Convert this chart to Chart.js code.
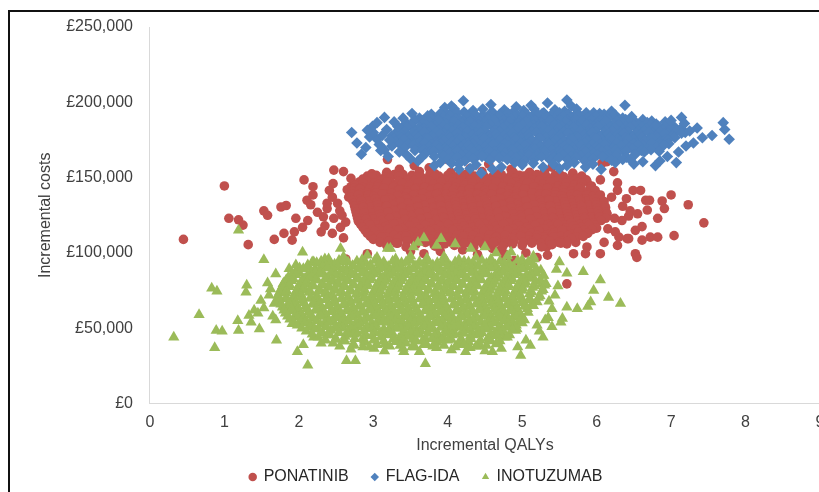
<!DOCTYPE html>
<html>
<head>
<meta charset="utf-8">
<script src="https://cdn.jsdelivr.net/npm/chart.js@4"></script>
<style>
  html, body { margin: 0; padding: 0; background: #fff; overflow: hidden; }
  #frame { position: absolute; left: 8px; top: 10px; width: 900px; height: 600px; border: 2px solid #111; box-sizing: border-box; }
  #wrap { position: absolute; left: 0; top: 0; width: 852px; height: 492px; }
</style>
</head>
<body>
<div id="frame"></div>
<div id="wrap"><canvas id="psa" width="852" height="492"></canvas></div>
<script>
// ═══════════ DATA ═══════════
// each series: flat list of [incremental QALYs, incremental cost in £000] pairs
const seriesNames = ['PONATINIB', 'FLAG-IDA', 'INOTUZUMAB'];
const seriesColors = ['#C0504D', '#4F81BD', '#9BBB59'];
const costTicks = [0, 50000, 100000, 150000, 200000, 250000];
const qalyTicks = [0, 1, 2, 3, 4, 5, 6, 7, 8, 9];

const ponatinibPts = [
  // left tail
  0.45,109, 1.0,144.5, 1.06,123, 1.19,122, 1.25,118.5, 1.32,105.5, 1.53,128, 1.58,125, 1.76,130.5, 1.83,131.5,
  1.67,109, 1.8,113, 1.91,108.5, 1.94,114, 1.96,123, 2.07,148.5, 2.19,144, 2.19,138.5, 2.12,121.5, 2.11,135,
  2.16,132, 2.33,124, 2.38,129.5, 2.46,146, 2.47,155, 2.6,154, 2.41,141.5, 2.45,137, 2.38,133, 2.47,123,
  2.45,113, 2.56,117, 2.63,120.5, 2.7,149.5, 2.7,144, 2.67,137, 2.63,96, 2.92,99.5, 2.3,114, 2.25,127,
  2.55,128, 2.6,110, 2.52,133, 2.35,118, 2.65,142, 2.58,125, 2.05,117,
  // right tail
  7.44,120, 7.23,132, 7.04,111.5, 7.0,138.5, 6.88,134.5, 6.91,129.5, 6.82,123, 6.72,110.5, 6.82,110.5, 6.52,99.5,
  6.54,97, 6.61,117.5, 6.52,115, 6.59,141.5, 6.49,141.5, 6.66,135, 6.71,135, 6.41,109.5, 6.3,110.5, 6.43,124.5,
  6.34,121.5, 6.24,123, 6.28,146.5, 6.28,141.5, 6.05,148.5, 6.23,154, 6.1,107, 6.05,99.5, 5.85,99.5, 5.87,104,
  5.69,99.5, 5.72,107, 5.6,106, 5.34,98.5, 5.33,104, 6.07,159.5, 5.8,150, 5.6,79.5, 6.28,105, 6.43,109.5,
  6.61,108.5, 6.35,131, 6.45,128, 6.55,126, 6.2,137, 6.4,136, 6.15,116, 6.25,114, 6.68,128.5,
  // lower / upper fringe
  4.89,95, 4.76,99.5, 4.69,101.5, 3.68,99.5, 3.82,105, 4.9,94.5, 4.76,98, 4.4,99, 3.5,101, 5.05,100,
  4.2,102, 3.9,101, 4.6,103, 5.2,97, 3.19,162, 4.0,162, 6.13,160.5, 3.55,158, 4.55,159, 5.4,157,
  3.35,155.5, 4.3,156, 4.85,155.5, 5.1,153.5, 3.75,156.5,
  // core
  2.98,152.5, 3.18,153.5, 3.4,152, 3.62,154, 3.83,152.5, 4.04,153.5, 4.25,152, 4.46,154, 4.67,152.5, 4.88,153.5,
  5.08,152, 5.3,154, 5.5,152.5, 5.68,153,
  2.92,151, 3.04,151.5, 3.16,150.5, 3.28,152, 3.4,151, 3.52,151.5, 3.64,150.5, 3.76,152, 3.88,151, 4.0,151.5,
  4.12,150.5, 4.24,152, 4.36,151, 4.48,151.5, 4.6,150.5, 4.72,152, 4.84,151, 4.96,151.5, 5.08,150.5, 5.2,152,
  5.32,151, 5.44,151.5, 5.56,150.5, 5.68,152, 5.8,151,
  2.86,149, 2.98,150.5, 3.1,148, 3.22,149.5, 3.34,151, 3.46,148.5, 3.58,150, 3.7,149, 3.82,150.5, 3.94,148,
  4.06,149.5, 4.18,151, 4.3,148.5, 4.42,150, 4.54,149, 4.66,150.5, 4.78,148, 4.9,149.5, 5.02,151, 5.14,148.5,
  5.26,150, 5.38,149, 5.5,150.5, 5.62,148, 5.74,149.5, 5.86,148.5,
  2.81,147, 2.92,147.5, 3.02,146.5, 3.13,148, 3.23,147, 3.34,147.5, 3.44,146.5, 3.55,148, 3.65,147, 3.76,147.5,
  3.86,146.5, 3.97,148, 4.07,147, 4.18,147.5, 4.28,146.5, 4.39,148, 4.49,147, 4.6,147.5, 4.7,146.5, 4.81,148,
  4.91,147, 5.02,147.5, 5.12,146.5, 5.23,148, 5.33,147, 5.44,147.5, 5.54,146.5, 5.65,148, 5.75,147, 5.87,147.5,
  2.76,145, 2.86,146.5, 2.97,144, 3.07,145.5, 3.18,147, 3.28,144.5, 3.39,146, 3.49,145, 3.6,146.5, 3.7,144,
  3.81,145.5, 3.91,147, 4.02,144.5, 4.12,146, 4.23,145, 4.33,146.5, 4.44,144, 4.54,145.5, 4.65,147, 4.75,144.5,
  4.86,146, 4.96,145, 5.07,146.5, 5.17,144, 5.28,145.5, 5.38,147, 5.49,144.5, 5.59,146, 5.7,145, 5.8,146.5, 5.93,144.5,
  2.74,143, 2.85,143.5, 2.95,142.5, 3.06,144, 3.16,143, 3.27,143.5, 3.37,142.5, 3.48,144, 3.58,143, 3.69,143.5,
  3.79,142.5, 3.9,144, 4.0,143, 4.11,143.5, 4.21,142.5, 4.32,144, 4.42,143, 4.53,143.5, 4.63,142.5, 4.74,144,
  4.84,143, 4.95,143.5, 5.05,142.5, 5.16,144, 5.26,143, 5.37,143.5, 5.47,142.5, 5.58,144, 5.68,143, 5.79,143.5, 5.91,142.5,
  2.72,141, 2.82,142.5, 2.93,140, 3.03,141.5, 3.14,143, 3.24,140.5, 3.35,142, 3.45,141, 3.56,142.5, 3.66,140,
  3.77,141.5, 3.87,143, 3.98,140.5, 4.08,142, 4.19,141, 4.29,142.5, 4.4,140, 4.5,141.5, 4.61,143, 4.71,140.5,
  4.82,142, 4.92,141, 5.03,142.5, 5.13,140, 5.24,141.5, 5.34,143, 5.45,140.5, 5.55,142, 5.66,141, 5.76,142.5,
  5.87,140, 5.98,141.5,
  2.72,139, 2.83,139.5, 2.93,138.5, 3.04,140, 3.14,139, 3.25,139.5, 3.35,138.5, 3.46,140, 3.56,139, 3.67,139.5,
  3.77,138.5, 3.88,140, 3.98,139, 4.09,139.5, 4.19,138.5, 4.3,140, 4.4,139, 4.51,139.5, 4.61,138.5, 4.72,140,
  4.82,139, 4.93,139.5, 5.03,138.5, 5.14,140, 5.24,139, 5.35,139.5, 5.45,138.5, 5.56,140, 5.66,139, 5.77,139.5,
  5.87,138.5, 5.99,139.5,
  2.7,137, 2.8,138.5, 2.91,136, 3.01,137.5, 3.12,139, 3.22,136.5, 3.33,138, 3.43,137, 3.54,138.5, 3.64,136,
  3.75,137.5, 3.85,139, 3.96,136.5, 4.06,138, 4.17,137, 4.27,138.5, 4.38,136, 4.48,137.5, 4.59,139, 4.69,136.5,
  4.8,138, 4.9,137, 5.01,138.5, 5.11,136, 5.22,137.5, 5.32,139, 5.43,136.5, 5.53,138, 5.64,137, 5.74,138.5,
  5.85,136, 5.95,137.5, 6.05,138.5,
  2.72,135, 2.82,135.5, 2.93,134.5, 3.03,136, 3.14,135, 3.24,135.5, 3.35,134.5, 3.45,136, 3.56,135, 3.66,135.5,
  3.77,134.5, 3.87,136, 3.98,135, 4.08,135.5, 4.19,134.5, 4.29,136, 4.4,135, 4.5,135.5, 4.61,134.5, 4.71,136,
  4.82,135, 4.92,135.5, 5.03,134.5, 5.13,136, 5.24,135, 5.34,135.5, 5.45,134.5, 5.55,136, 5.66,135, 5.76,135.5,
  5.87,134.5, 5.97,136, 6.07,135,
  2.74,133, 2.84,134.5, 2.95,132, 3.05,133.5, 3.16,135, 3.26,132.5, 3.37,134, 3.47,133, 3.58,134.5, 3.68,132,
  3.79,133.5, 3.89,135, 4.0,132.5, 4.1,134, 4.21,133, 4.31,134.5, 4.42,132, 4.52,133.5, 4.63,135, 4.73,132.5,
  4.84,134, 4.94,133, 5.05,134.5, 5.15,132, 5.26,133.5, 5.36,135, 5.47,132.5, 5.57,134, 5.68,133, 5.78,134.5,
  5.89,132, 5.99,133.5, 6.1,134,
  2.75,131, 2.85,131.5, 2.96,130.5, 3.06,132, 3.17,131, 3.27,131.5, 3.38,130.5, 3.48,132, 3.59,131, 3.69,131.5,
  3.8,130.5, 3.9,132, 4.01,131, 4.11,131.5, 4.22,130.5, 4.32,132, 4.43,131, 4.53,131.5, 4.64,130.5, 4.74,132,
  4.85,131, 4.95,131.5, 5.06,130.5, 5.16,132, 5.27,131, 5.37,131.5, 5.48,130.5, 5.58,132, 5.69,131, 5.79,131.5,
  5.9,130.5, 6.0,132, 6.11,131,
  2.76,129, 2.86,130.5, 2.97,128, 3.07,129.5, 3.18,131, 3.28,128.5, 3.39,130, 3.49,129, 3.6,130.5, 3.7,128,
  3.81,129.5, 3.91,131, 4.02,128.5, 4.12,130, 4.23,129, 4.33,130.5, 4.44,128, 4.54,129.5, 4.65,131, 4.75,128.5,
  4.86,130, 4.96,129, 5.07,130.5, 5.17,128, 5.28,129.5, 5.38,131, 5.49,128.5, 5.59,130, 5.7,129, 5.8,130.5,
  5.91,128, 6.01,129.5, 6.12,130,
  2.77,127, 2.87,127.5, 2.98,126.5, 3.08,128, 3.19,127, 3.29,127.5, 3.4,126.5, 3.5,128, 3.61,127, 3.71,127.5,
  3.82,126.5, 3.92,128, 4.03,127, 4.13,127.5, 4.24,126.5, 4.34,128, 4.45,127, 4.55,127.5, 4.66,126.5, 4.76,128,
  4.87,127, 4.97,127.5, 5.08,126.5, 5.18,128, 5.29,127, 5.39,127.5, 5.5,126.5, 5.6,128, 5.71,127, 5.81,127.5,
  5.92,126.5, 6.02,128, 6.13,127,
  2.78,125, 2.88,126.5, 2.99,124, 3.09,125.5, 3.2,127, 3.3,124.5, 3.41,126, 3.51,125, 3.62,126.5, 3.72,124,
  3.83,125.5, 3.93,127, 4.04,124.5, 4.14,126, 4.25,125, 4.35,126.5, 4.46,124, 4.56,125.5, 4.67,127, 4.77,124.5,
  4.88,126, 4.98,125, 5.09,126.5, 5.19,124, 5.3,125.5, 5.4,127, 5.51,124.5, 5.61,126, 5.72,125, 5.82,126.5,
  5.93,124, 6.03,125.5, 6.14,126,
  2.79,123, 2.89,123.5, 3.0,122.5, 3.1,124, 3.21,123, 3.31,123.5, 3.42,122.5, 3.52,124, 3.63,123, 3.73,123.5,
  3.84,122.5, 3.94,124, 4.05,123, 4.15,123.5, 4.26,122.5, 4.36,124, 4.47,123, 4.57,123.5, 4.68,122.5, 4.78,124,
  4.89,123, 4.99,123.5, 5.1,122.5, 5.2,124, 5.31,123, 5.41,123.5, 5.52,122.5, 5.62,124, 5.73,123, 5.83,123.5,
  5.94,122.5, 6.04,124, 6.12,123,
  2.8,121, 2.9,122.5, 3.01,120, 3.11,121.5, 3.22,123, 3.32,120.5, 3.43,122, 3.53,121, 3.64,122.5, 3.74,120,
  3.85,121.5, 3.95,123, 4.06,120.5, 4.16,122, 4.27,121, 4.37,122.5, 4.48,120, 4.58,121.5, 4.69,123, 4.79,120.5,
  4.9,122, 5.0,121, 5.11,122.5, 5.21,120, 5.32,121.5, 5.42,123, 5.53,120.5, 5.63,122, 5.74,121, 5.84,122.5,
  5.95,120, 6.06,121.5,
  2.83,119, 2.93,119.5, 3.04,118.5, 3.14,120, 3.25,119, 3.35,119.5, 3.46,118.5, 3.56,120, 3.67,119, 3.77,119.5,
  3.88,118.5, 3.98,120, 4.09,119, 4.19,119.5, 4.3,118.5, 4.4,120, 4.51,119, 4.61,119.5, 4.72,118.5, 4.82,120,
  4.93,119, 5.03,119.5, 5.14,118.5, 5.24,120, 5.35,119, 5.45,119.5, 5.56,118.5, 5.66,120, 5.77,119, 5.87,119.5, 5.98,118.5,
  2.86,117, 2.96,118.5, 3.07,116, 3.17,117.5, 3.28,119, 3.38,116.5, 3.49,118, 3.59,117, 3.7,118.5, 3.8,116,
  3.91,117.5, 4.01,119, 4.12,116.5, 4.22,118, 4.33,117, 4.43,118.5, 4.54,116, 4.64,117.5, 4.75,119, 4.85,116.5,
  4.96,118, 5.06,117, 5.17,118.5, 5.27,116, 5.38,117.5, 5.48,119, 5.59,116.5, 5.69,118, 5.8,117, 5.9,118.5, 6.0,116.5,
  2.89,115, 2.99,115.5, 3.1,114.5, 3.2,116, 3.31,115, 3.41,115.5, 3.52,114.5, 3.62,116, 3.73,115, 3.83,115.5,
  3.94,114.5, 4.04,116, 4.15,115, 4.25,115.5, 4.36,114.5, 4.46,116, 4.57,115, 4.67,115.5, 4.78,114.5, 4.88,116,
  4.99,115, 5.09,115.5, 5.2,114.5, 5.3,116, 5.41,115, 5.51,115.5, 5.62,114.5, 5.72,116, 5.83,115, 5.94,115.5,
  2.92,113, 3.02,114.5, 3.13,112, 3.23,113.5, 3.34,115, 3.44,112.5, 3.55,114, 3.65,113, 3.76,114.5, 3.86,112,
  3.97,113.5, 4.07,115, 4.18,112.5, 4.28,114, 4.39,113, 4.49,114.5, 4.6,112, 4.7,113.5, 4.81,115, 4.91,112.5,
  5.02,114, 5.12,113, 5.23,114.5, 5.33,112, 5.44,113.5, 5.54,115, 5.65,112.5, 5.75,114, 5.88,113,
  2.96,111, 3.07,111.5, 3.17,110.5, 3.28,112, 3.38,111, 3.49,111.5, 3.6,110.5, 3.7,112, 3.81,111, 3.92,111.5,
  4.02,110.5, 4.13,112, 4.24,111, 4.34,111.5, 4.45,110.5, 4.56,112, 4.66,111, 4.77,111.5, 4.88,110.5, 4.98,112,
  5.09,111, 5.2,111.5, 5.3,110.5, 5.41,112, 5.52,111, 5.62,111.5, 5.73,110.5, 5.82,111,
  3.0,109, 3.11,110.5, 3.22,108, 3.33,109.5, 3.44,111, 3.55,108.5, 3.66,110, 3.77,109, 3.88,110.5, 3.99,108,
  4.1,109.5, 4.21,111, 4.32,108.5, 4.43,110, 4.54,109, 4.65,110.5, 4.76,108, 4.87,109.5, 4.98,111, 5.09,108.5,
  5.2,110, 5.31,109, 5.42,110.5, 5.53,108, 5.66,109.5,
  3.09,107, 3.21,107.5, 3.33,106.5, 3.45,108, 3.57,107, 3.69,107.5, 3.81,106.5, 3.93,108, 4.05,107, 4.17,107.5,
  4.29,106.5, 4.41,108, 4.53,107, 4.65,107.5, 4.77,106.5, 4.89,108, 5.01,107, 5.13,107.5, 5.25,106.5, 5.37,108,
  5.49,107, 5.6,107.5,
  3.18,105, 3.31,106.5, 3.44,104, 3.57,105.5, 3.7,107, 3.83,104.5, 3.96,106, 4.09,105, 4.22,106.5, 4.35,104,
  4.48,105.5, 4.61,107, 4.74,104.5, 4.87,106, 5.0,105, 5.13,106.5, 5.26,104, 5.4,105.5, 5.52,106.5
];

const flagIdaPts = [
  // upper fringe
  4.21,201, 4.05,197.5, 4.58,198.5, 5.34,199.5, 5.6,201.5, 5.66,197.5, 6.38,198, 4.92,197, 5.12,198, 3.96,196.5,
  3.95,194, 4.09,195.5, 4.22,193.5, 4.34,194.5, 4.47,195.5, 4.61,193, 4.76,195, 4.88,193.5, 5.02,194.5, 5.16,195.5,
  5.29,193, 5.44,195, 5.57,194, 5.73,195.5, 5.86,193, 6.04,192.5, 6.2,194,
  // core
  3.78,192, 3.9,192.5, 4.01,191.5, 4.12,193, 4.24,192, 4.35,192.5, 4.47,191.5, 4.58,193, 4.7,192, 4.81,192.5,
  4.93,191.5, 5.04,193, 5.16,192, 5.27,192.5, 5.39,191.5, 5.5,193, 5.62,192, 5.73,192.5, 5.85,191.5, 5.96,193,
  6.1,192, 6.25,191.5,
  3.62,189.5, 3.73,191, 3.83,189, 3.94,190.5, 4.03,191.5, 4.15,189, 4.26,190.5, 4.37,191.5, 4.46,189.5, 4.57,190,
  4.69,191.5, 4.79,189, 4.9,190.5, 5.01,191, 5.11,189.5, 5.22,191.5, 5.33,190, 5.44,189, 5.55,191, 5.66,190,
  5.77,191.5, 5.88,189.5, 5.99,190.5, 6.1,189, 6.22,191, 6.35,189.5, 6.47,190.5,
  3.56,188.5, 3.67,188, 3.78,189, 3.89,187.5, 4.0,188.5, 4.1,189, 4.21,188, 4.32,188.5, 4.42,187.5, 4.53,189,
  4.64,188, 4.75,188.5, 4.85,189, 4.96,187.5, 5.07,188.5, 5.17,188, 5.28,189, 5.39,187.5, 5.5,188.5, 5.6,188,
  5.71,189, 5.82,187.5, 5.93,188.5, 6.04,188, 6.15,189, 6.27,187.5, 6.39,188.5, 6.5,188, 6.62,188.5, 6.74,187.5,
  3.45,186, 3.55,187.5, 3.66,185.5, 3.77,186.5, 3.87,188, 3.98,185.5, 4.09,187, 4.19,186, 4.3,187.5, 4.41,185,
  4.51,186.5, 4.62,188, 4.73,185.5, 4.83,187, 4.94,186, 5.05,187.5, 5.15,185, 5.26,186.5, 5.37,188, 5.48,185.5,
  5.58,187, 5.69,186, 5.8,187.5, 5.9,185, 6.01,186.5, 6.12,187.5, 6.23,185.5, 6.34,186.5, 6.45,187.5, 6.56,185,
  6.68,186.5, 6.8,185.5, 6.92,187,
  3.4,184, 3.51,184.5, 3.62,183.5, 3.72,185, 3.83,184, 3.94,184.5, 4.04,183.5, 4.15,185, 4.26,184, 4.36,184.5,
  4.47,183.5, 4.58,185, 4.68,184, 4.79,184.5, 4.9,183.5, 5.0,185, 5.11,184, 5.22,184.5, 5.32,183.5, 5.43,185,
  5.54,184, 5.65,184.5, 5.75,183.5, 5.86,185, 5.97,184, 6.07,184.5, 6.18,183.5, 6.29,185, 6.4,184, 6.5,184.5,
  6.61,183.5, 6.72,185, 6.83,184, 6.94,184.5, 7.05,183.5,
  3.35,182, 3.45,183.5, 3.56,181, 3.67,182.5, 3.78,184, 3.88,181.5, 3.99,183, 4.1,182, 4.2,183.5, 4.31,181,
  4.42,182.5, 4.52,184, 4.63,181.5, 4.74,183, 4.85,182, 4.95,183.5, 5.06,181, 5.17,182.5, 5.27,184, 5.38,181.5,
  5.49,183, 5.6,182, 5.7,183.5, 5.81,181, 5.92,182.5, 6.02,184, 6.13,181.5, 6.24,183, 6.35,182, 6.45,183.5,
  6.56,181, 6.67,182.5, 6.78,184, 6.89,181.5, 7.0,183, 7.12,182,
  3.31,180, 3.42,180.5, 3.52,179.5, 3.63,181, 3.74,180, 3.85,180.5, 3.95,179.5, 4.06,181, 4.17,180, 4.27,180.5,
  4.38,179.5, 4.49,181, 4.6,180, 4.7,180.5, 4.81,179.5, 4.92,181, 5.03,180, 5.13,180.5, 5.24,179.5, 5.35,181,
  5.46,180, 5.56,180.5, 5.67,179.5, 5.78,181, 5.89,180, 5.99,180.5, 6.1,179.5, 6.21,181, 6.32,180, 6.42,180.5,
  6.53,179.5, 6.64,181, 6.75,180, 6.85,180.5, 6.96,179.5, 7.07,181, 7.19,180,
  3.25,178, 3.36,179.5, 3.47,177, 3.58,178.5, 3.68,180, 3.79,177.5, 3.9,179, 4.01,178, 4.12,179.5, 4.22,177,
  4.33,178.5, 4.44,180, 4.55,177.5, 4.65,179, 4.76,178, 4.87,179.5, 4.98,177, 5.08,178.5, 5.19,180, 5.3,177.5,
  5.41,179, 5.51,178, 5.62,179.5, 5.73,177, 5.84,178.5, 5.94,180, 6.05,177.5, 6.16,179, 6.27,178, 6.37,179.5,
  6.48,177, 6.59,178.5, 6.7,180, 6.8,177.5, 6.91,179, 7.02,178, 7.14,179.5,
  3.28,176, 3.38,176.5, 3.49,175.5, 3.6,177, 3.7,176, 3.81,176.5, 3.92,175.5, 4.03,177, 4.13,176, 4.24,176.5,
  4.35,175.5, 4.46,177, 4.56,176, 4.67,176.5, 4.78,175.5, 4.89,177, 4.99,176, 5.1,176.5, 5.21,175.5, 5.32,177,
  5.42,176, 5.53,176.5, 5.64,175.5, 5.75,177, 5.85,176, 5.96,176.5, 6.07,175.5, 6.18,177, 6.28,176, 6.39,176.5,
  6.5,175.5, 6.61,177, 6.71,176, 6.82,176.5, 6.93,175.5, 7.05,176.5,
  3.3,174, 3.41,175.5, 3.52,173, 3.63,174.5, 3.73,176, 3.84,173.5, 3.95,175, 4.06,174, 4.16,175.5, 4.27,173,
  4.38,174.5, 4.49,176, 4.59,173.5, 4.7,175, 4.81,174, 4.92,175.5, 5.02,173, 5.13,174.5, 5.24,176, 5.35,173.5,
  5.45,175, 5.56,174, 5.67,175.5, 5.78,173, 5.88,174.5, 5.99,176, 6.1,173.5, 6.21,175, 6.31,174, 6.42,175.5,
  6.53,173, 6.64,174.5, 6.74,176, 6.85,173.5, 6.96,175,
  3.36,172, 3.47,172.5, 3.58,171.5, 3.69,173, 3.79,172, 3.9,172.5, 4.01,171.5, 4.12,173, 4.22,172, 4.33,172.5,
  4.44,171.5, 4.55,173, 4.65,172, 4.76,172.5, 4.87,171.5, 4.98,173, 5.08,172, 5.19,172.5, 5.3,171.5, 5.41,173,
  5.51,172, 5.62,172.5, 5.73,171.5, 5.84,173, 5.94,172, 6.05,172.5, 6.16,171.5, 6.27,173, 6.38,172, 6.5,172.5,
  6.62,171.5, 6.74,173, 6.86,172, 6.97,172.5,
  3.42,170, 3.53,171.5, 3.64,169, 3.75,170.5, 3.85,172, 3.96,169.5, 4.07,171, 4.18,170, 4.28,171.5, 4.39,169,
  4.5,170.5, 4.61,172, 4.71,169.5, 4.82,171, 4.93,170, 5.04,171.5, 5.14,169, 5.25,170.5, 5.36,172, 5.47,169.5,
  5.57,171, 5.68,170, 5.79,171.5, 5.9,169, 6.0,170.5, 6.11,172, 6.22,169.5, 6.33,171, 6.44,170, 6.56,171.5,
  6.68,169, 6.8,170.5, 6.9,171.5,
  3.56,168, 3.67,168.5, 3.78,167.5, 3.88,169, 3.99,168, 4.1,168.5, 4.21,167.5, 4.31,169, 4.42,168, 4.53,168.5,
  4.63,167.5, 4.74,169, 4.85,168, 4.96,168.5, 5.06,167.5, 5.17,169, 5.28,168, 5.39,168.5, 5.49,167.5, 5.6,169,
  5.71,168, 5.82,168.5, 5.92,167.5, 6.03,169, 6.14,168, 6.25,168.5, 6.36,167.5, 6.48,169, 6.6,168, 6.73,168.5, 6.84,167.5,
  3.7,166, 3.81,167.5, 3.92,165, 4.02,166.5, 4.13,168, 4.24,165.5, 4.35,167, 4.45,166, 4.56,167.5, 4.67,165,
  4.78,166.5, 4.88,168, 4.99,165.5, 5.1,167, 5.21,166, 5.31,167.5, 5.42,165, 5.53,166.5, 5.64,168, 5.74,165.5,
  5.85,167, 5.96,166, 6.07,167.5, 6.17,165, 6.28,166.5, 6.4,168, 6.52,165.5, 6.64,167,
  3.82,164, 3.94,164.5, 4.06,163.5, 4.18,165, 4.29,164, 4.4,164.5, 4.52,163.5, 4.63,165, 4.74,164, 4.86,164.5,
  4.97,163.5, 5.09,165, 5.2,164, 5.32,164.5, 5.43,163.5, 5.55,165, 5.66,164, 5.78,164.5, 5.89,163.5, 6.01,165,
  6.13,164, 6.26,164.5, 6.4,163.5,
  4.0,162, 4.12,163.5, 4.23,161, 4.34,162.5, 4.46,164, 4.57,161.5, 4.69,163, 4.8,162, 4.92,163.5, 5.03,161,
  5.15,162.5, 5.26,164, 5.38,161.5, 5.49,163, 5.61,162, 5.72,163.5, 5.84,161, 5.95,162.5, 6.08,164, 6.2,161.5,
  // lower fringe
  3.82,158, 4.05,159.5, 4.45,153, 4.3,156, 4.72,157, 5.0,158.5, 5.28,157, 5.6,158, 5.85,157, 6.06,155.5,
  6.5,159, 6.79,158, 7.07,160, 6.62,160.5, 4.6,155.5, 6.35,162, 3.5,162.5, 3.65,163.5, 3.9,160, 4.15,159,
  4.38,158.5, 4.9,160, 5.15,159.5, 5.42,159, 5.7,160, 5.95,159, 6.25,160, 6.45,162, 5.5,156, 4.15,155.5,
  // left tail
  2.71,180, 2.78,173, 2.84,165.5, 2.95,177, 3.05,175.5, 2.99,184, 3.15,190, 3.33,184, 3.1,168, 3.2,164,
  3.05,186.5, 3.25,171, 3.52,192.5, 3.45,165, 2.9,170, 3.6,161, 3.0,180, 3.12,178, 3.18,182, 3.22,175,
  2.92,181.5, 3.08,172, 3.28,187, 3.15,168.5, 3.35,167, 3.4,189.5,
  // right tail
  7.7,186.5, 7.78,175.5, 7.42,176.5, 7.14,190, 7.25,181, 7.3,173, 7.18,186, 7.35,183, 7.72,182, 7.55,178,
  7.1,167, 7.2,171, 6.95,164, 6.85,161, 7.0,188
];

const inotuzumabPts = [
  // left tail
  0.32,44, 0.66,59, 0.83,76.5, 0.9,74.5, 0.87,37, 0.89,48.5, 0.97,48, 1.19,115, 1.18,55, 1.19,48.5,
  1.3,78.5, 1.29,74, 1.53,95.5, 1.33,58.5, 1.4,62, 1.36,54, 1.49,68.5, 1.53,63.5, 1.47,49.5, 1.69,86,
  1.67,66.5, 1.69,55.5, 1.7,42, 2.05,100.5, 2.56,103, 1.98,34.5, 2.06,39, 2.12,25.5, 2.64,28.5, 2.76,28.5,
  3.01,36.5, 3.7,26.5, 3.41,34.5, 3.56,37.5, 1.79,79.5, 1.85,62, 1.91,53, 1.87,89.5, 1.96,92, 2.2,94,
  2.4,96, 2.92,98.5, 3.23,103, 3.54,104, 1.6,72, 1.58,80, 1.65,58, 1.45,60, 1.62,76, 2.3,40, 2.2,44,
  // right tail
  4.98,32, 5.11,38.5, 4.94,37.5, 5.4,51, 5.52,54, 4.42,38, 4.6,34.5, 4.24,34.5, 4.76,44, 4.91,48.5,
  6.32,66.5, 6.16,70.5, 6.05,82, 5.96,75, 5.92,67.5, 5.88,64.5, 5.74,63, 5.6,64, 5.82,87.5, 5.6,86.5,
  5.5,94, 5.46,89, 5.29,85, 5.27,79.5, 5.16,96, 5.54,56.5, 5.4,63, 5.31,55.5, 5.44,72, 5.35,57,
  5.2,52, 5.23,48, 5.15,97.8, 5.36,68, 5.48,78, 5.28,44, 5.05,42,
  // upper fringe
  3.68,110, 3.91,109.5, 3.19,103, 4.31,103, 3.85,105, 4.1,106, 4.5,104, 4.65,100, 3.6,107, 4.85,100.5,
  // core
  2.35,96, 2.6,97.5, 2.85,95.5, 3.05,97, 3.3,96, 3.5,98, 3.72,96.5, 3.95,97.5, 4.15,95.5, 4.38,97,
  4.58,96, 4.8,98, 5.0,95.5,
  2.18,94, 2.3,94.5, 2.42,93.5, 2.54,95, 2.66,94, 2.78,94.5, 2.9,93.5, 3.02,95, 3.14,94, 3.26,94.5,
  3.38,93.5, 3.5,95, 3.62,94, 3.74,94.5, 3.86,93.5, 3.98,95, 4.1,94, 4.22,94.5, 4.34,93.5, 4.46,95,
  4.58,94, 4.7,94.5, 4.82,93.5, 4.94,95, 5.08,94,
  2.12,92, 2.24,93.5, 2.36,91, 2.48,92.5, 2.6,94, 2.72,91.5, 2.84,93, 2.96,92, 3.08,93.5, 3.2,91,
  3.32,92.5, 3.44,94, 3.56,91.5, 3.68,93, 3.8,92, 3.92,93.5, 4.04,91, 4.16,92.5, 4.28,94, 4.4,91.5,
  4.52,93, 4.64,92, 4.76,93.5, 4.88,91, 5.0,92.5, 5.15,92,
  2.01,90, 2.11,90.5, 2.22,89.5, 2.32,91, 2.43,90, 2.53,90.5, 2.64,89.5, 2.74,91, 2.85,90, 2.95,90.5,
  3.06,89.5, 3.16,91, 3.27,90, 3.37,90.5, 3.48,89.5, 3.58,91, 3.69,90, 3.79,90.5, 3.9,89.5, 4.0,91,
  4.11,90, 4.21,90.5, 4.32,89.5, 4.42,91, 4.53,90, 4.63,90.5, 4.74,89.5, 4.84,91, 4.95,90, 5.06,90.5, 5.19,89.5,
  1.96,88, 2.06,89.5, 2.17,87, 2.27,88.5, 2.38,90, 2.48,87.5, 2.59,89, 2.69,88, 2.8,89.5, 2.9,87,
  3.01,88.5, 3.11,90, 3.22,87.5, 3.32,89, 3.43,88, 3.53,89.5, 3.64,87, 3.74,88.5, 3.85,90, 3.95,87.5,
  4.06,89, 4.16,88, 4.27,89.5, 4.37,87, 4.48,88.5, 4.58,90, 4.69,87.5, 4.79,89, 4.9,88, 5.0,89.5,
  5.12,87, 5.25,88.5,
  1.91,86, 2.01,86.5, 2.12,85.5, 2.22,87, 2.33,86, 2.43,86.5, 2.54,85.5, 2.64,87, 2.75,86, 2.85,86.5,
  2.96,85.5, 3.06,87, 3.17,86, 3.27,86.5, 3.38,85.5, 3.48,87, 3.59,86, 3.69,86.5, 3.8,85.5, 3.9,87,
  4.01,86, 4.11,86.5, 4.22,85.5, 4.32,87, 4.43,86, 4.53,86.5, 4.64,85.5, 4.74,87, 4.85,86, 4.95,86.5,
  5.06,85.5, 5.19,86.5,
  1.86,84, 1.96,85.5, 2.07,83, 2.17,84.5, 2.28,86, 2.38,83.5, 2.49,85, 2.59,84, 2.7,85.5, 2.8,83,
  2.91,84.5, 3.01,86, 3.12,83.5, 3.22,85, 3.33,84, 3.43,85.5, 3.54,83, 3.64,84.5, 3.75,86, 3.85,83.5,
  3.96,85, 4.06,84, 4.17,85.5, 4.27,83, 4.38,84.5, 4.48,86, 4.59,83.5, 4.69,85, 4.8,84, 4.9,85.5,
  5.01,83, 5.13,84.5, 5.28,85,
  1.83,82, 1.93,82.5, 2.04,81.5, 2.14,83, 2.25,82, 2.35,82.5, 2.46,81.5, 2.56,83, 2.67,82, 2.77,82.5,
  2.88,81.5, 2.98,83, 3.09,82, 3.19,82.5, 3.3,81.5, 3.4,83, 3.51,82, 3.61,82.5, 3.72,81.5, 3.82,83,
  3.93,82, 4.03,82.5, 4.14,81.5, 4.24,83, 4.35,82, 4.45,82.5, 4.56,81.5, 4.66,83, 4.77,82, 4.87,82.5,
  4.98,81.5, 5.1,83, 5.24,82,
  1.8,80, 1.9,81.5, 2.01,79, 2.11,80.5, 2.22,82, 2.32,79.5, 2.43,81, 2.53,80, 2.64,81.5, 2.74,79,
  2.85,80.5, 2.95,82, 3.06,79.5, 3.16,81, 3.27,80, 3.37,81.5, 3.48,79, 3.58,80.5, 3.69,82, 3.79,79.5,
  3.9,81, 4.0,80, 4.11,81.5, 4.21,79, 4.32,80.5, 4.42,82, 4.53,79.5, 4.63,81, 4.74,80, 4.84,81.5,
  4.95,79, 5.05,80.5, 5.18,81, 5.32,79.5,
  1.78,78, 1.88,78.5, 1.99,77.5, 2.09,79, 2.2,78, 2.3,78.5, 2.41,77.5, 2.51,79, 2.62,78, 2.72,78.5,
  2.83,77.5, 2.93,79, 3.04,78, 3.14,78.5, 3.25,77.5, 3.35,79, 3.46,78, 3.56,78.5, 3.67,77.5, 3.77,79,
  3.88,78, 3.98,78.5, 4.09,77.5, 4.19,79, 4.3,78, 4.4,78.5, 4.51,77.5, 4.61,79, 4.72,78, 4.82,78.5,
  4.93,77.5, 5.04,79, 5.17,78, 5.3,78.5,
  1.76,76, 1.86,77.5, 1.97,75, 2.07,76.5, 2.18,78, 2.28,75.5, 2.39,77, 2.49,76, 2.6,77.5, 2.7,75,
  2.81,76.5, 2.91,78, 3.02,75.5, 3.12,77, 3.23,76, 3.33,77.5, 3.44,75, 3.54,76.5, 3.65,78, 3.75,75.5,
  3.86,77, 3.96,76, 4.07,77.5, 4.17,75, 4.28,76.5, 4.38,78, 4.49,75.5, 4.59,77, 4.7,76, 4.8,77.5,
  4.91,75, 5.01,76.5, 5.14,77, 5.28,75.5,
  1.74,74, 1.84,74.5, 1.95,73.5, 2.05,75, 2.16,74, 2.26,74.5, 2.37,73.5, 2.47,75, 2.58,74, 2.68,74.5,
  2.79,73.5, 2.89,75, 3.0,74, 3.1,74.5, 3.21,73.5, 3.31,75, 3.42,74, 3.52,74.5, 3.63,73.5, 3.73,75,
  3.84,74, 3.94,74.5, 4.05,73.5, 4.15,75, 4.26,74, 4.36,74.5, 4.47,73.5, 4.57,75, 4.68,74, 4.78,74.5,
  4.89,73.5, 5.0,75, 5.13,74, 5.26,74.5,
  1.72,72, 1.82,73.5, 1.93,71, 2.03,72.5, 2.14,74, 2.24,71.5, 2.35,73, 2.45,72, 2.56,73.5, 2.66,71,
  2.77,72.5, 2.87,74, 2.98,71.5, 3.08,73, 3.19,72, 3.29,73.5, 3.4,71, 3.5,72.5, 3.61,74, 3.71,71.5,
  3.82,73, 3.92,72, 4.03,73.5, 4.13,71, 4.24,72.5, 4.34,74, 4.45,71.5, 4.55,73, 4.66,72, 4.76,73.5,
  4.87,71, 4.97,72.5, 5.1,73, 5.24,71.5,
  1.73,70, 1.83,70.5, 1.94,69.5, 2.04,71, 2.15,70, 2.25,70.5, 2.36,69.5, 2.46,71, 2.57,70, 2.67,70.5,
  2.78,69.5, 2.88,71, 2.99,70, 3.09,70.5, 3.2,69.5, 3.3,71, 3.41,70, 3.51,70.5, 3.62,69.5, 3.72,71,
  3.83,70, 3.93,70.5, 4.04,69.5, 4.14,71, 4.25,70, 4.35,70.5, 4.46,69.5, 4.56,71, 4.67,70, 4.77,70.5,
  4.88,69.5, 4.98,71, 5.1,70, 5.22,70.5,
  1.74,68, 1.84,69.5, 1.95,67, 2.05,68.5, 2.16,70, 2.26,67.5, 2.37,69, 2.47,68, 2.58,69.5, 2.68,67,
  2.79,68.5, 2.89,70, 3.0,67.5, 3.1,69, 3.21,68, 3.31,69.5, 3.42,67, 3.52,68.5, 3.63,70, 3.73,67.5,
  3.84,69, 3.94,68, 4.05,69.5, 4.15,67, 4.26,68.5, 4.36,70, 4.47,67.5, 4.57,69, 4.68,68, 4.78,69.5,
  4.89,67, 4.99,68.5, 5.1,69, 5.2,67.5,
  1.76,66, 1.86,66.5, 1.97,65.5, 2.07,67, 2.18,66, 2.28,66.5, 2.39,65.5, 2.49,67, 2.6,66, 2.7,66.5,
  2.81,65.5, 2.91,67, 3.02,66, 3.12,66.5, 3.23,65.5, 3.33,67, 3.44,66, 3.54,66.5, 3.65,65.5, 3.75,67,
  3.86,66, 3.96,66.5, 4.07,65.5, 4.17,67, 4.28,66, 4.38,66.5, 4.49,65.5, 4.59,67, 4.7,66, 4.8,66.5,
  4.91,65.5, 5.01,67, 5.13,66,
  1.78,64, 1.88,65.5, 1.99,63, 2.09,64.5, 2.2,66, 2.3,63.5, 2.41,65, 2.51,64, 2.62,65.5, 2.72,63,
  2.83,64.5, 2.93,66, 3.04,63.5, 3.14,65, 3.25,64, 3.35,65.5, 3.46,63, 3.56,64.5, 3.67,66, 3.77,63.5,
  3.88,65, 3.98,64, 4.09,65.5, 4.19,63, 4.3,64.5, 4.4,66, 4.51,63.5, 4.61,65, 4.72,64, 4.82,65.5,
  4.93,63, 5.03,64.5, 5.15,65,
  1.8,62, 1.9,62.5, 2.01,61.5, 2.11,63, 2.22,62, 2.32,62.5, 2.43,61.5, 2.53,63, 2.64,62, 2.74,62.5,
  2.85,61.5, 2.95,63, 3.06,62, 3.16,62.5, 3.27,61.5, 3.37,63, 3.48,62, 3.58,62.5, 3.69,61.5, 3.79,63,
  3.9,62, 4.0,62.5, 4.11,61.5, 4.21,63, 4.32,62, 4.42,62.5, 4.53,61.5, 4.63,63, 4.74,62, 4.84,62.5,
  4.95,61.5, 5.07,63,
  1.82,60, 1.92,61.5, 2.03,59, 2.13,60.5, 2.24,62, 2.34,59.5, 2.45,61, 2.55,60, 2.66,61.5, 2.76,59,
  2.87,60.5, 2.97,62, 3.08,59.5, 3.18,61, 3.29,60, 3.39,61.5, 3.5,59, 3.6,60.5, 3.71,62, 3.81,59.5,
  3.92,61, 4.02,60, 4.13,61.5, 4.23,59, 4.34,60.5, 4.44,62, 4.55,59.5, 4.65,61, 4.76,60, 4.86,61.5,
  4.97,59, 5.08,60.5,
  1.85,58, 1.95,58.5, 2.06,57.5, 2.16,59, 2.27,58, 2.37,58.5, 2.48,57.5, 2.58,59, 2.69,58, 2.79,58.5,
  2.9,57.5, 3.0,59, 3.11,58, 3.21,58.5, 3.32,57.5, 3.42,59, 3.53,58, 3.63,58.5, 3.74,57.5, 3.84,59,
  3.95,58, 4.05,58.5, 4.16,57.5, 4.26,59, 4.37,58, 4.47,58.5, 4.58,57.5, 4.68,59, 4.79,58, 4.89,58.5, 5.0,57.5,
  1.88,56, 1.98,57.5, 2.09,55, 2.19,56.5, 2.3,58, 2.4,55.5, 2.51,57, 2.61,56, 2.72,57.5, 2.82,55,
  2.93,56.5, 3.03,58, 3.14,55.5, 3.24,57, 3.35,56, 3.45,57.5, 3.56,55, 3.66,56.5, 3.77,58, 3.87,55.5,
  3.98,57, 4.08,56, 4.19,57.5, 4.29,55, 4.4,56.5, 4.5,58, 4.61,55.5, 4.71,57, 4.82,56, 4.92,57.5, 5.03,55.5,
  1.93,54, 2.03,54.5, 2.14,53.5, 2.24,55, 2.35,54, 2.45,54.5, 2.56,53.5, 2.66,55, 2.77,54, 2.87,54.5,
  2.98,53.5, 3.08,55, 3.19,54, 3.29,54.5, 3.4,53.5, 3.5,55, 3.61,54, 3.71,54.5, 3.82,53.5, 3.92,55,
  4.03,54, 4.13,54.5, 4.24,53.5, 4.34,55, 4.45,54, 4.55,54.5, 4.66,53.5, 4.76,55, 4.87,54, 4.97,54.5,
  1.98,52, 2.08,53.5, 2.19,51, 2.29,52.5, 2.4,54, 2.5,51.5, 2.61,53, 2.71,52, 2.82,53.5, 2.92,51,
  3.03,52.5, 3.13,54, 3.24,51.5, 3.34,53, 3.45,52, 3.55,53.5, 3.66,51, 3.76,52.5, 3.87,54, 3.97,51.5,
  4.08,53, 4.18,52, 4.29,53.5, 4.39,51, 4.5,52.5, 4.6,54, 4.71,51.5, 4.81,53, 4.92,52, 5.0,53.5,
  2.04,50, 2.15,50.5, 2.26,49.5, 2.37,51, 2.48,50, 2.59,50.5, 2.7,49.5, 2.81,51, 2.92,50, 3.03,50.5,
  3.14,49.5, 3.25,51, 3.36,50, 3.47,50.5, 3.58,49.5, 3.69,51, 3.8,50, 3.91,50.5, 4.02,49.5, 4.13,51,
  4.24,50, 4.35,50.5, 4.46,49.5, 4.57,51, 4.68,50, 4.8,50.5, 4.93,49.5,
  2.1,48, 2.21,49.5, 2.32,47, 2.43,48.5, 2.54,50, 2.65,47.5, 2.76,49, 2.87,48, 2.98,49.5, 3.09,47,
  3.2,48.5, 3.31,50, 3.42,47.5, 3.53,49, 3.64,48, 3.75,49.5, 3.86,47, 3.97,48.5, 4.08,50, 4.19,47.5,
  4.3,49, 4.41,48, 4.52,49.5, 4.63,47, 4.74,48.5, 4.87,49,
  2.18,46, 2.3,46.5, 2.42,45.5, 2.54,47, 2.66,46, 2.78,46.5, 2.9,45.5, 3.02,47, 3.14,46, 3.26,46.5,
  3.38,45.5, 3.5,47, 3.62,46, 3.74,46.5, 3.86,45.5, 3.98,47, 4.1,46, 4.22,46.5, 4.34,45.5, 4.46,47,
  4.58,46, 4.7,46.5, 4.83,45.5,
  2.26,44, 2.38,45.5, 2.5,43, 2.62,44.5, 2.74,46, 2.86,43.5, 2.98,45, 3.1,44, 3.22,45.5, 3.34,43,
  3.46,44.5, 3.58,46, 3.7,43.5, 3.82,45, 3.94,44, 4.06,45.5, 4.18,43, 4.3,44.5, 4.42,46, 4.54,43.5,
  4.66,45, 4.8,44,
  2.36,42, 2.49,42.5, 2.62,41.5, 2.75,43, 2.88,42, 3.01,42.5, 3.14,41.5, 3.27,43, 3.4,42, 3.53,42.5,
  3.66,41.5, 3.79,43, 3.92,42, 4.05,42.5, 4.18,41.5, 4.31,43, 4.44,42, 4.57,42.5, 4.7,41.5,
  2.46,40, 2.6,41.5, 2.74,39, 2.88,40.5, 3.02,42, 3.16,39.5, 3.3,41, 3.44,40, 3.58,41.5, 3.72,39,
  3.86,40.5, 4.0,42, 4.14,39.5, 4.28,41, 4.42,40, 4.56,41.5,
  2.55,38, 2.72,38.5, 2.86,37.5, 3.05,39, 3.22,38, 3.36,38.5, 3.52,37.5, 3.68,39, 3.8,38, 3.95,38.5,
  4.1,37.5, 4.22,39, 4.38,38, 4.52,38.5, 4.65,39.5,
  // lower fringe
  2.7,36, 2.95,37.5, 3.15,35, 3.4,36.5, 3.62,34.5, 3.85,37, 4.05,35.5, 4.3,37, 4.5,35, 4.72,36.5
];

// ═══════════ CHART ═══════════
const toPoints = flat => {
    const pts = [];
    for (let i = 0; i < flat.length; i += 2) pts.push({ x: flat[i], y: flat[i + 1] * 1000 });
    return pts;
};

const seriesPts = [ponatinibPts, flagIdaPts, inotuzumabPts];
const seriesShapes = ['circle', 'rectRot', 'triangle'];
const seriesRadius = [4.8, 5.8, 6.5];

const datasets = seriesNames.map((name, i) => ({
    label: name,
    data: toPoints(seriesPts[i]),
    pointStyle: seriesShapes[i],
    pointRadius: seriesRadius[i],
    backgroundColor: seriesColors[i],
    borderColor: seriesColors[i],
    borderWidth: 0,
    order: 3 - i   // Excel paints later series on top
}));

const axisFont = { family: 'Arial, "Liberation Sans", sans-serif', size: 16 };
const textColor = '#404040';

new Chart(document.getElementById('psa'), {
    type: 'scatter',
    data: { datasets },
    options: {
        responsive: false,
        animation: false,
        layout: { padding: { left: 32, right: 32, top: 27, bottom: -3 } },
        plugins: {
            tooltip: { enabled: false },
            legend: {
                position: 'bottom',
                labels: {
                    usePointStyle: true,
                    boxWidth: 6,
                    boxHeight: 6,
                    padding: 23,
                    color: '#262626',
                    font: axisFont,
                    sort: (a, b) => a.datasetIndex - b.datasetIndex
                }
            }
        },
        scales: {
            x: {
                type: 'linear',
                min: 0,
                max: 9,
                afterBuildTicks: s => { s.ticks = qalyTicks.map(v => ({ value: v })); },
                grid: { drawOnChartArea: false, drawTicks: false },
                border: { color: '#d9d9d9', width: 1 },
                ticks: { color: textColor, font: axisFont, padding: 9, maxRotation: 0 },
                title: { display: true, text: 'Incremental QALYs', color: textColor, font: axisFont, padding: { top: -5, bottom: -9 } }
            },
            y: {
                min: 0,
                max: 250000,
                afterBuildTicks: s => { s.ticks = costTicks.map(v => ({ value: v })); },
                grid: { drawOnChartArea: false, drawTicks: false },
                border: { color: '#d9d9d9', width: 1 },
                ticks: {
                    color: textColor,
                    font: axisFont,
                    padding: 17,
                    callback: v => '£' + Number(v).toLocaleString('en-GB')
                },
                title: { display: true, text: 'Incremental costs', color: textColor, font: axisFont, padding: { top: 4, bottom: -6 } }
            }
        }
    }
});
</script>
</body>
</html>
